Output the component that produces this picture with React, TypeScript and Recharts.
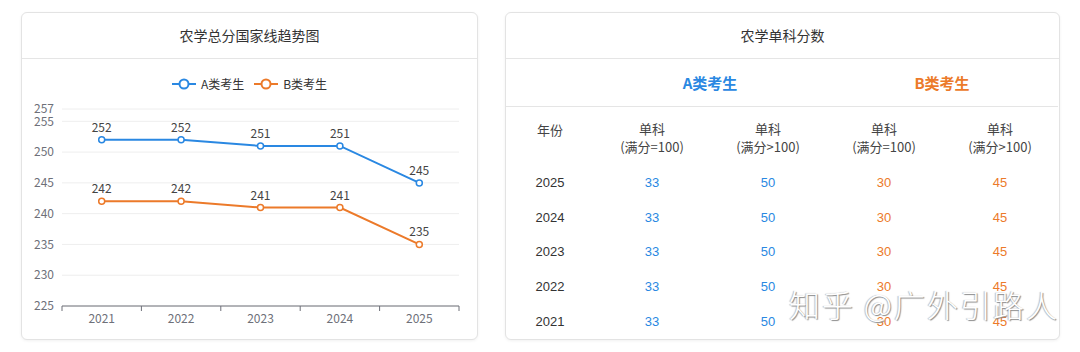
import { CartesianGrid, LabelList, Line, LineChart, XAxis, YAxis } from "recharts";

const years = ["2021", "2022", "2023", "2024", "2025"];
const scoreA = [252, 252, 251, 251, 245];
const scoreB = [242, 242, 241, 241, 235];
const yTicks = [225, 230, 235, 240, 245, 250, 255, 257];

const tableYears = ["2025", "2024", "2023", "2022", "2021"];
const aFull100 = [33, 33, 33, 33, 33];
const aOver100 = [50, 50, 50, 50, 50];
const bFull100 = [30, 30, 30, 30, 30];
const bOver100 = [45, 45, 45, 45, 45];

const BLUE = "#2a88e2";
const ORANGE = "#ec7a2a";
const AXIS = "#6e7079";
const FONT = '"Noto Sans CJK SC", "Noto Sans", sans-serif';
const TABLE_FONT = '"Liberation Sans", "Noto Sans CJK SC", sans-serif';

const HALF_BAND = 39.7;

const chartData = years.map((year, i) => ({ year, a: scoreA[i], b: scoreB[i] }));

function YearTick(props: any) {
  const { x, y, payload, index } = props;
  return (
    <g>
      <line x1={x - HALF_BAND} y1={y} x2={x - HALF_BAND} y2={y + 5} stroke={AXIS} />
      {index === years.length - 1 && <line x1={x + HALF_BAND} y1={y} x2={x + HALF_BAND} y2={y + 5} stroke={AXIS} />}
      <text x={x} y={y + 17} textAnchor="middle" fill={AXIS} fontSize={12} fontFamily={FONT}>
        {payload.value}
      </text>
    </g>
  );
}

function LegendItem({ color, label }: { color: string; label: string }) {
  return (
    <span style={{ display: "inline-flex", alignItems: "center", gap: 5 }}>
      <svg width={24} height={12}>
        <line x1={0} y1={6} x2={24} y2={6} stroke={color} strokeWidth={2} />
        <circle cx={12} cy={6} r={4.5} fill="#fff" stroke={color} strokeWidth={2} />
      </svg>
      <span style={{ fontSize: 12, color: "#333" }}>{label}</span>
    </span>
  );
}

const card: React.CSSProperties = {
  position: "absolute",
  top: 12,
  height: 328,
  boxSizing: "border-box",
  border: "1px solid #e3e3e3",
  borderRadius: 6,
  background: "#fff",
  boxShadow: "0 1px 3px rgba(0,0,0,0.06)",
  overflow: "hidden",
};

const cardTitle: React.CSSProperties = {
  height: 45,
  lineHeight: "45px",
  borderBottom: "1px solid #e5e5e5",
  textAlign: "center",
  fontSize: 14,
  color: "#333",
  fontFamily: FONT,
};

const cols = [88, 116, 116, 116, 116];

export default function App() {
  return (
    <div style={{ position: "absolute", left: 0, top: 0, width: 1080, height: 352, background: "#fff", fontFamily: FONT }}>
      {/* left: trend chart */}
      <div style={{ ...card, left: 21, width: 457 }}>
        <div style={cardTitle}>农学总分国家线趋势图</div>
        <div style={{ position: "relative", width: 455, height: 280 }}>
          <div
            style={{
              position: "absolute",
              top: 16,
              left: 0,
              width: 455,
              display: "flex",
              justifyContent: "center",
              gap: 10,
              fontFamily: FONT,
            }}
          >
            <LegendItem color={BLUE} label="A类考生" />
            <LegendItem color={ORANGE} label="B类考生" />
          </div>
          <LineChart width={455} height={280} data={chartData} margin={{ top: 50, right: 18, left: 0, bottom: 0 }}>
            <CartesianGrid stroke="#eeeeee" vertical={false} />
            <XAxis
              dataKey="year"
              height={33}
              padding={{ left: HALF_BAND, right: HALF_BAND }}
              axisLine={{ stroke: AXIS }}
              tickLine={false}
              tickSize={0}
              tickMargin={0}
              interval={0}
              tick={<YearTick />}
            />
            <YAxis
              width={40}
              domain={[225, 257]}
              ticks={yTicks}
              interval={0}
              axisLine={false}
              tickLine={false}
              tick={{ fontSize: 12, fill: AXIS, fontFamily: FONT }}
            />
            <Line
              dataKey="a"
              stroke={BLUE}
              strokeWidth={2}
              dot={{ r: 3, fill: "#fff", stroke: BLUE, strokeWidth: 1.5 }}
              isAnimationActive={false}
            >
              <LabelList dataKey="a" position="top" offset={8} fill="#444" fontSize={12} fontFamily={FONT} />
            </Line>
            <Line
              dataKey="b"
              stroke={ORANGE}
              strokeWidth={2}
              dot={{ r: 3, fill: "#fff", stroke: ORANGE, strokeWidth: 1.5 }}
              isAnimationActive={false}
            >
              <LabelList dataKey="b" position="top" offset={8} fill="#444" fontSize={12} fontFamily={FONT} />
            </Line>
          </LineChart>
        </div>
      </div>

      {/* right: single subject table */}
      <div style={{ ...card, left: 505, width: 555 }}>
        <div style={cardTitle}>农学单科分数</div>
        <table style={{ borderCollapse: "collapse", tableLayout: "fixed", width: 552, fontFamily: TABLE_FONT, fontSize: 13 }}>
          <colgroup>
            {cols.map((w, i) => (
              <col key={i} style={{ width: w }} />
            ))}
          </colgroup>
          <tbody>
            <tr style={{ height: 47, borderBottom: "1px solid #e5e5e5" }}>
              <td />
              <td colSpan={2} style={{ textAlign: "center", color: BLUE, fontWeight: 700, fontSize: 15, fontFamily: FONT }}>
                A类考生
              </td>
              <td colSpan={2} style={{ textAlign: "center", color: ORANGE, fontWeight: 700, fontSize: 15, fontFamily: FONT }}>
                B类考生
              </td>
            </tr>
            <tr style={{ height: 59 }}>
              <td style={{ verticalAlign: "top", paddingTop: 13, textAlign: "center", color: "#444", fontFamily: FONT }}>年份</td>
              {["(满分=100)", "(满分>100)", "(满分=100)", "(满分>100)"].map((t, i) => (
                <td key={i} style={{ verticalAlign: "top", paddingTop: 13, textAlign: "center", color: "#444", lineHeight: "18px", fontFamily: FONT }}>
                  单科
                  <br />
                  {t}
                </td>
              ))}
            </tr>
            {tableYears.map((y, i) => (
              <tr key={y} style={{ height: 34.8 }}>
                <td style={{ textAlign: "center", color: "#333" }}>{y}</td>
                <td style={{ textAlign: "center", color: BLUE }}>{aFull100[i]}</td>
                <td style={{ textAlign: "center", color: BLUE }}>{aOver100[i]}</td>
                <td style={{ textAlign: "center", color: ORANGE }}>{bFull100[i]}</td>
                <td style={{ textAlign: "center", color: ORANGE }}>{bOver100[i]}</td>
              </tr>
            ))}
          </tbody>
        </table>
      </div>

      {/* watermark */}
      <div
        style={{
          position: "absolute",
          left: 789,
          top: 281,
          fontSize: 31,
          fontWeight: 300,
          letterSpacing: 2,
          color: "#fff",
          textShadow: "1px 1px 1px #8a8a8a, -1px 0 1px #bbb",
          fontFamily: FONT,
          whiteSpace: "nowrap",
        }}
      >
        知乎 @广外引路人
      </div>
    </div>
  );
}
